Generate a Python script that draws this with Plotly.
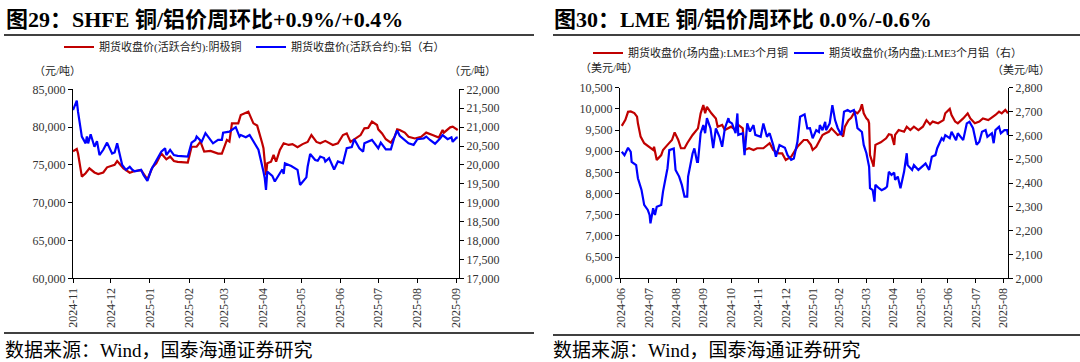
import pandas as pd
import plotly.graph_objects as go

RED = "#C00000"
BLUE = "#0000FF"
SERIF = "Liberation Serif, Noto Sans CJK SC, serif"

# ---------------- Chart 29: SHFE ----------------
shfe_cu_dates = [
    "2024-11-01", "2024-11-04", "2024-11-05", "2024-11-08", "2024-11-11", "2024-11-14", "2024-11-18",
    "2024-11-21", "2024-11-25", "2024-11-28", "2024-12-04", "2024-12-06", "2024-12-11", "2024-12-16",
    "2024-12-20", "2024-12-25", "2024-12-30", "2025-01-03", "2025-01-06", "2025-01-10", "2025-01-14",
    "2025-01-17", "2025-01-20", "2025-01-23", "2025-01-31", "2025-02-03", "2025-02-07", "2025-02-10",
    "2025-02-13", "2025-02-18", "2025-02-24", "2025-02-27", "2025-03-03", "2025-03-05", "2025-03-07",
    "2025-03-12", "2025-03-14", "2025-03-20", "2025-03-24", "2025-03-27", "2025-03-31", "2025-04-01",
    "2025-04-03", "2025-04-04", "2025-04-07", "2025-04-09", "2025-04-11", "2025-04-14", "2025-04-17",
    "2025-04-21", "2025-04-24", "2025-04-28", "2025-05-02", "2025-05-06", "2025-05-09", "2025-05-13",
    "2025-05-16", "2025-05-20", "2025-05-26", "2025-05-30", "2025-06-03", "2025-06-06", "2025-06-09",
    "2025-06-13", "2025-06-17", "2025-06-20", "2025-06-23", "2025-06-26", "2025-06-30", "2025-07-01",
    "2025-07-04", "2025-07-07", "2025-07-11", "2025-07-14", "2025-07-16", "2025-07-18", "2025-07-22",
    "2025-07-25", "2025-07-30", "2025-08-04", "2025-08-08", "2025-08-13", "2025-08-18", "2025-08-21",
    "2025-08-22", "2025-08-27", "2025-08-29", "2025-09-02",
]
shfe_cu = [
    76800, 77100, 76500, 73450, 73900, 74550, 74000,
    73800, 74000, 74680, 75000, 75500, 74550, 73970,
    74190, 74300, 73100, 74680, 75210, 76500, 75740,
    76100, 75520, 75400, 75300, 77400, 77400, 78070,
    76750, 76850, 76500, 76500, 78300, 78070, 80500,
    80500, 81600, 82040, 80500, 80200, 77860, 77200,
    73660, 75210, 75430, 76310, 75430, 76970, 77860,
    77640, 77750, 77330, 77750, 78040, 78950, 78040,
    77860, 78180, 77640, 77860, 78950, 79170, 78040,
    78500, 78950, 79840, 79900, 80720, 80280, 79700,
    79170, 78390, 77940, 78720, 79710, 79620, 79270,
    78720, 78500, 78720, 79270, 78950, 78610, 79620,
    79270, 79970, 80060, 79620,
]

shfe_al_dates = [
    "2024-11-01", "2024-11-04", "2024-11-05", "2024-11-08", "2024-11-11", "2024-11-12", "2024-11-13",
    "2024-11-15", "2024-11-18", "2024-11-20", "2024-11-22", "2024-11-25", "2024-11-28", "2024-12-02",
    "2024-12-04", "2024-12-06", "2024-12-10", "2024-12-13", "2024-12-16", "2024-12-18", "2024-12-20",
    "2024-12-25", "2024-12-27", "2024-12-30", "2025-01-02", "2025-01-06", "2025-01-08", "2025-01-10",
    "2025-01-13", "2025-01-14", "2025-01-17", "2025-01-20", "2025-01-23", "2025-01-31", "2025-02-03",
    "2025-02-06", "2025-02-07", "2025-02-11", "2025-02-14", "2025-02-20", "2025-02-24", "2025-02-27",
    "2025-02-28", "2025-03-05", "2025-03-10", "2025-03-13", "2025-03-14", "2025-03-18", "2025-03-21",
    "2025-03-25", "2025-03-28", "2025-04-01", "2025-04-02", "2025-04-03", "2025-04-04", "2025-04-08",
    "2025-04-10", "2025-04-14", "2025-04-16", "2025-04-17", "2025-04-18", "2025-04-23", "2025-04-28",
    "2025-04-30", "2025-05-05", "2025-05-06", "2025-05-08", "2025-05-12", "2025-05-14", "2025-05-16",
    "2025-05-19", "2025-05-20", "2025-05-23", "2025-05-27", "2025-05-30", "2025-06-03", "2025-06-06",
    "2025-06-10", "2025-06-12", "2025-06-16", "2025-06-19", "2025-06-20", "2025-06-26", "2025-07-01",
    "2025-07-03", "2025-07-07", "2025-07-11", "2025-07-14", "2025-07-16", "2025-07-18", "2025-07-25",
    "2025-07-29", "2025-08-01", "2025-08-06", "2025-08-08", "2025-08-11", "2025-08-15", "2025-08-19",
    "2025-08-21", "2025-08-25", "2025-08-28", "2025-08-29", "2025-09-01", "2025-09-02",
]
shfe_al = [
    21450, 21700, 21400, 20750, 20570, 20750, 20570,
    20810, 20480, 20630, 20260, 20400, 20590, 20300,
    20330, 20570, 20000, 19870, 19950, 19870, 19830,
    19870, 19730, 19580, 19870, 20130, 20220, 20350,
    20440, 20260, 20400, 20260, 20240, 20220, 20590,
    20660, 20750, 20610, 20840, 20570, 20660, 20660,
    20850, 20880, 21000, 20750, 20790, 20730, 20790,
    20570, 20400, 19820, 19650, 19340, 19820, 19710,
    19560, 19780, 19880, 19760, 20040, 19970, 19870,
    19470, 19670, 19950, 20290, 20130, 20110, 20220,
    20180, 20090, 20180, 19880, 20090, 20040, 20440,
    20470, 20680, 20440, 20350, 20570, 20660, 20440,
    20590, 20410, 20410, 20750, 20910, 20770, 20570,
    20530, 20680, 20700, 20750, 20660, 20560, 20700,
    20790, 20680, 20730, 20610, 20720, 20720,
]
shfe_months = ["2024-11", "2024-12", "2025-01", "2025-02", "2025-03", "2025-04",
               "2025-05", "2025-06", "2025-07", "2025-08", "2025-09"]

# ---------------- Chart 30: LME ----------------
lme_cu_dates = [
    "2024-07-01", "2024-07-05", "2024-07-08", "2024-07-11", "2024-07-15", "2024-07-18", "2024-07-19",
    "2024-07-22", "2024-07-26", "2024-08-01", "2024-08-05", "2024-08-06", "2024-08-09", "2024-08-14",
    "2024-08-16", "2024-08-21", "2024-08-26", "2024-08-29", "2024-09-02", "2024-09-05", "2024-09-09",
    "2024-09-12", "2024-09-18", "2024-09-24", "2024-09-27", "2024-09-30", "2024-10-02", "2024-10-04",
    "2024-10-09", "2024-10-14", "2024-10-16", "2024-10-21", "2024-10-24", "2024-10-31", "2024-11-05",
    "2024-11-08", "2024-11-13", "2024-11-15", "2024-11-20", "2024-11-25", "2024-11-29", "2024-12-06",
    "2024-12-13", "2024-12-17", "2024-12-23", "2024-12-27", "2024-12-31", "2025-01-06", "2025-01-13",
    "2025-01-20", "2025-01-24", "2025-01-28", "2025-01-30", "2025-02-03", "2025-02-10", "2025-02-13",
    "2025-02-17", "2025-02-20", "2025-02-24", "2025-02-27", "2025-03-03", "2025-03-05", "2025-03-07",
    "2025-03-11", "2025-03-14", "2025-03-18", "2025-03-21", "2025-03-24", "2025-03-26", "2025-03-28",
    "2025-03-31", "2025-04-02", "2025-04-03", "2025-04-04", "2025-04-07", "2025-04-08", "2025-04-10",
    "2025-04-16", "2025-04-22", "2025-04-25", "2025-04-28", "2025-05-01", "2025-05-02", "2025-05-06",
    "2025-05-12", "2025-05-15", "2025-05-19", "2025-05-23", "2025-05-28", "2025-06-02", "2025-06-06",
    "2025-06-10", "2025-06-13", "2025-06-19", "2025-06-25", "2025-06-27", "2025-07-02", "2025-07-04",
    "2025-07-08", "2025-07-11", "2025-07-17", "2025-07-22", "2025-07-25", "2025-07-30", "2025-08-04",
    "2025-08-08", "2025-08-14", "2025-08-18", "2025-08-22", "2025-08-26", "2025-08-29", "2025-09-02",
    "2025-09-05",
]
lme_cu = [
    9600, 9740, 9930, 9940, 9900, 9815, 9660,
    9345, 9190, 9105, 9030, 9105, 8795, 8910,
    9030, 9150, 9265, 9445, 9265, 9070, 9070,
    9190, 9385, 9540, 9895, 10090, 9895, 10050,
    9895, 9775, 9580, 9620, 9500, 9580, 9500,
    9620, 9540, 9030, 9070, 9030, 9070, 9070,
    9190, 9030, 8950, 8950, 8795, 8870, 9105,
    9265, 9265, 9150, 9030, 9105, 9385, 9420,
    9460, 9540, 9460, 9385, 9420, 9345, 9580,
    9735, 9790, 9935, 9895, 9975, 10110, 9895,
    9775, 9735, 9660, 8910, 8715, 8635, 9150,
    9210, 9305, 9400, 9385, 9150, 9385, 9500,
    9460, 9580, 9500, 9580, 9500, 9580, 9735,
    9635, 9700, 9660, 9735, 9895, 10000, 9855,
    9700, 9660, 9775, 9895, 9775, 9660, 9700,
    9775, 9735, 9790, 9855, 9935, 9895, 9975,
    9895,
]

lme_al_dates = [
    "2024-07-01", "2024-07-04", "2024-07-08", "2024-07-11", "2024-07-12", "2024-07-17", "2024-07-19",
    "2024-07-23", "2024-07-26", "2024-07-30", "2024-08-01", "2024-08-02", "2024-08-05", "2024-08-07",
    "2024-08-09", "2024-08-14", "2024-08-16", "2024-08-21", "2024-08-23", "2024-08-28", "2024-08-30",
    "2024-09-03", "2024-09-06", "2024-09-09", "2024-09-12", "2024-09-13", "2024-09-18", "2024-09-20",
    "2024-09-23", "2024-09-24", "2024-09-27", "2024-09-30", "2024-10-02", "2024-10-04", "2024-10-08",
    "2024-10-11", "2024-10-14", "2024-10-18", "2024-10-21", "2024-10-24", "2024-10-28", "2024-10-29",
    "2024-11-01", "2024-11-05", "2024-11-07", "2024-11-08", "2024-11-13", "2024-11-15", "2024-11-18",
    "2024-11-21", "2024-11-25", "2024-11-27", "2024-12-03", "2024-12-06", "2024-12-10", "2024-12-13",
    "2024-12-17", "2024-12-20", "2024-12-24", "2024-12-30", "2025-01-02", "2025-01-06", "2025-01-09",
    "2025-01-13", "2025-01-16", "2025-01-21", "2025-01-24", "2025-01-27", "2025-01-30", "2025-02-03",
    "2025-02-06", "2025-02-07", "2025-02-10", "2025-02-13", "2025-02-14", "2025-02-18", "2025-02-21",
    "2025-02-24", "2025-02-27", "2025-03-03", "2025-03-06", "2025-03-10", "2025-03-13", "2025-03-17",
    "2025-03-19", "2025-03-21", "2025-03-26", "2025-03-28", "2025-03-31", "2025-04-03", "2025-04-04",
    "2025-04-07", "2025-04-09", "2025-04-10", "2025-04-14", "2025-04-17", "2025-04-21", "2025-04-23",
    "2025-04-25", "2025-04-28", "2025-05-01", "2025-05-02", "2025-05-05", "2025-05-08", "2025-05-12",
    "2025-05-15", "2025-05-16", "2025-05-21", "2025-05-23", "2025-05-28", "2025-06-03", "2025-06-05",
    "2025-06-09", "2025-06-12", "2025-06-16", "2025-06-18", "2025-06-23", "2025-06-25", "2025-06-27",
    "2025-07-02", "2025-07-04", "2025-07-09", "2025-07-11", "2025-07-17", "2025-07-21", "2025-07-24",
    "2025-07-28", "2025-08-01", "2025-08-04", "2025-08-07", "2025-08-11", "2025-08-13", "2025-08-18",
    "2025-08-20", "2025-08-22", "2025-08-26", "2025-08-28", "2025-09-01", "2025-09-04", "2025-09-05",
]
lme_al = [
    2531, 2517, 2548, 2531, 2489, 2475, 2420,
    2371, 2308, 2287, 2266, 2231, 2294, 2266,
    2300, 2308, 2364, 2462, 2538, 2545, 2455,
    2427, 2392, 2343, 2343, 2427, 2524, 2545,
    2489, 2489, 2609, 2643, 2609, 2672, 2629,
    2546, 2629, 2594, 2552, 2629, 2672, 2657,
    2650, 2609, 2692, 2602, 2609, 2517, 2650,
    2616, 2643, 2602, 2594, 2650, 2594, 2609,
    2559, 2510, 2559, 2548, 2517, 2497, 2503,
    2573, 2678, 2688, 2629, 2630, 2588, 2622,
    2614, 2643, 2622, 2657, 2622, 2650, 2727,
    2664, 2630, 2601, 2699, 2706, 2699, 2706,
    2678, 2630, 2614, 2560, 2525, 2468, 2378,
    2370, 2322, 2392, 2378, 2370, 2378, 2385,
    2447, 2434, 2444, 2413, 2427, 2378, 2447,
    2525, 2475, 2455, 2475, 2455, 2475, 2482,
    2455, 2510, 2517, 2546, 2588, 2580, 2601,
    2588, 2615, 2580, 2609, 2580, 2650, 2657,
    2630, 2560, 2573, 2615, 2622, 2594, 2609,
    2567, 2622, 2636, 2609, 2622, 2622, 2601,
]
lme_months = ["2024-06", "2024-07", "2024-08", "2024-09", "2024-10", "2024-11", "2024-12",
              "2025-01", "2025-02", "2025-03", "2025-04", "2025-05", "2025-06", "2025-07", "2025-08"]

# ---------------- figure ----------------
W, H = 1080, 362


def px_x(p):
    return p / W


def px_y(p):
    return 1 - p / H


LW = 2.2
fig = go.Figure()
fig.add_trace(go.Scatter(x=shfe_cu_dates, y=shfe_cu, mode="lines", name="期货收盘价(活跃合约):阴极铜",
                         line=dict(color=RED, width=LW), xaxis="x", yaxis="y", legend="legend"))
fig.add_trace(go.Scatter(x=shfe_al_dates, y=shfe_al, mode="lines", name="期货收盘价(活跃合约):铝（右）",
                         line=dict(color=BLUE, width=LW), xaxis="x", yaxis="y2", legend="legend2"))
fig.add_trace(go.Scatter(x=lme_cu_dates, y=lme_cu, mode="lines", name="期货收盘价(场内盘):LME3个月铜",
                         line=dict(color=RED, width=LW), xaxis="x2", yaxis="y3", legend="legend3"))
fig.add_trace(go.Scatter(x=lme_al_dates, y=lme_al, mode="lines", name="期货收盘价(场内盘):LME3个月铝（右）",
                         line=dict(color=BLUE, width=LW), xaxis="x2", yaxis="y4", legend="legend4"))

tickfont = dict(family=SERIF, size=12, color="#333333")
axis_common = dict(showline=True, linecolor="black", linewidth=1, ticks="outside", ticklen=4,
                   tickcolor="black", showgrid=False, zeroline=False, tickfont=tickfont,
                   automargin=False)

shfe_tickvals = [pd.Timestamp(m + "-01") for m in shfe_months]
lme_tickvals = [pd.Period(m, freq="M").end_time.normalize() for m in lme_months]

fig.update_layout(
    width=W, height=H, autosize=False, margin=dict(l=0, r=0, t=0, b=0, pad=0),
    paper_bgcolor="white", plot_bgcolor="white", showlegend=True,
    xaxis=dict(domain=[px_x(73), px_x(459)], anchor="y", type="date",
               range=["2024-11-01", "2025-09-03"], tickvals=shfe_tickvals, ticktext=shfe_months,
               tickangle=-90, **axis_common),
    yaxis=dict(domain=[px_y(278.3), px_y(89.3)], anchor="x", range=[60000, 85000], dtick=5000,
               tickformat=",d", **axis_common),
    yaxis2=dict(overlaying="y", side="right", anchor="x", range=[17000, 22000], dtick=500,
                tickformat=",d", **axis_common),
    xaxis2=dict(domain=[px_x(620), px_x(1008)], anchor="y3", type="date",
                range=["2024-06-29", "2025-09-05"], tickvals=lme_tickvals, ticktext=lme_months,
                tickangle=-90, **axis_common),
    yaxis3=dict(domain=[px_y(278.3), px_y(87.7)], anchor="x2", range=[6000, 10500], dtick=500,
                tickformat=",d", **axis_common),
    yaxis4=dict(overlaying="y3", side="right", anchor="x2", range=[2000, 2800], dtick=100,
                tickformat=",d", **axis_common),
)

legend_font = dict(family=SERIF, size=11, color="#222222")
for name, xpx, ypx in [("legend", 59, 47), ("legend2", 251, 47), ("legend3", 588, 53), ("legend4", 789, 53)]:
    fig.update_layout({name: dict(orientation="h", x=px_x(xpx), xanchor="left", y=px_y(ypx), yanchor="middle",
                                  font=legend_font, bgcolor="rgba(0,0,0,0)", borderwidth=0,
                                  itemwidth=30, visible=True)})

title_font = dict(family=SERIF, size=22, color="black")
unit_font = dict(family=SERIF, size=11, color="#222222")
src_font = dict(family=SERIF, size=19, color="black")

annotations = [
    dict(text="<b>图29：SHFE 铜/铝价周环比+0.9%/+0.4%</b>", x=px_x(5), y=px_y(19), xanchor="left",
         yanchor="middle", font=title_font),
    dict(text="<b>图30：LME 铜/铝价周环比 0.0%/-0.6%</b>", x=px_x(553), y=px_y(20), xanchor="left",
         yanchor="middle", font=title_font),
    dict(text="（元/吨）", x=px_x(57), y=px_y(71.5), xanchor="center", yanchor="middle", font=unit_font),
    dict(text="（元/吨）", x=px_x(472), y=px_y(71.5), xanchor="center", yanchor="middle", font=unit_font),
    dict(text="（美元/吨）", x=px_x(609), y=px_y(68), xanchor="center", yanchor="middle", font=unit_font),
    dict(text="（美元/吨）", x=px_x(1021), y=px_y(69.5), xanchor="center", yanchor="middle", font=unit_font),
    dict(text="数据来源：Wind，国泰海通证券研究", x=px_x(4), y=px_y(350.5), xanchor="left", yanchor="middle",
         font=src_font),
    dict(text="数据来源：Wind，国泰海通证券研究", x=px_x(552), y=px_y(350.5), xanchor="left", yanchor="middle",
         font=src_font),
]
for a in annotations:
    a.update(xref="paper", yref="paper", showarrow=False, align="left", borderpad=0)
fig.update_layout(annotations=annotations)

shapes = []
for x0, x1, ypx in [(4, 534, 35), (553, 1080, 35), (4, 534, 333), (553, 1080, 335)]:
    shapes.append(dict(type="line", xref="paper", yref="paper", x0=px_x(x0), x1=px_x(x1),
                       y0=px_y(ypx), y1=px_y(ypx), line=dict(color="black", width=1.5)))
fig.update_layout(shapes=shapes)

fig.write_html(
    "out.html",
    config={"responsive": False, "displayModeBar": False},
    post_script="document.body.style.margin='0';document.body.style.overflow='hidden';",
)
